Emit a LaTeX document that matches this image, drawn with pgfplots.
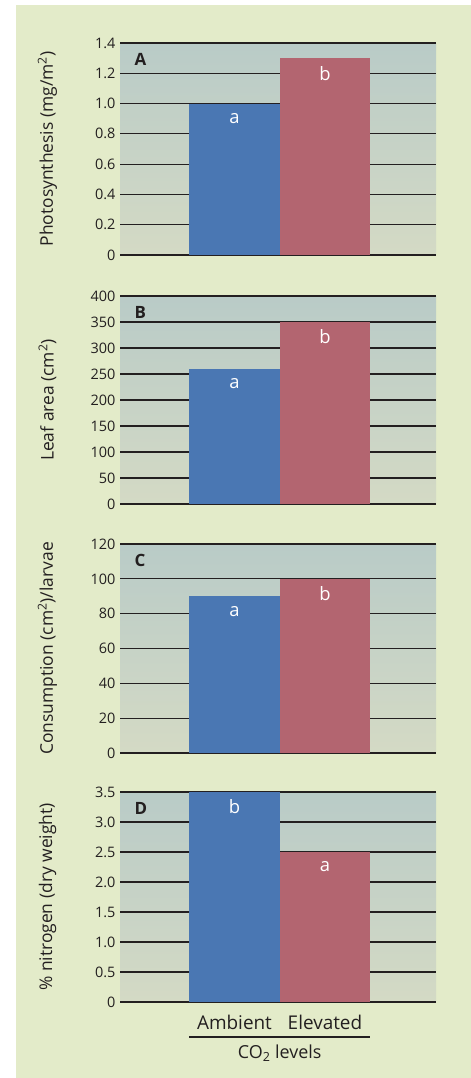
\documentclass[border=0pt]{standalone}
\usepackage{fontspec}
\setmainfont{Open Sans}
\usepackage{pgfplots}
\pgfplotsset{compat=1.18}

\definecolor{panelbg}{HTML}{E3EBC9}
\definecolor{plottop}{HTML}{B9CBC7}
\definecolor{plotbot}{HTML}{D4DAC5}
\definecolor{barblue}{HTML}{4A77B3}
\definecolor{barred}{HTML}{B36570}
\definecolor{txt}{HTML}{231F20}

\pgfplotsset{
  layers/withpage/.define layer set={pagebg,axis background,axis grid,axis ticks,
    axis lines,axis tick labels,pre main,main,axis descriptions,axis foreground}{},
  panel/.style={
    set layers=withpage,
    scale only axis,
    width=316bp,
    anchor=south west,
    xmin=-1.265, xmax=2.227,
    ymin=0,
    axis line style={draw=none},
    tick style={draw=none},
    xtick=\empty,
    ymajorgrids,
    grid style={line width=1.1bp, color=txt},
    axis background/.style={shade, top color=plottop, bottom color=plotbot},
    /pgf/number format/assume math mode=true,
    yticklabel style={font=\fontsize{14.5}{16}\selectfont, text=txt, xshift=-1bp},
    every axis y label/.style={at={(axis description cs:-0.2294,0.5)}, rotate=90,
      anchor=center, font=\fontsize{17.5}{19}\selectfont, text=txt},
    clip=false,
  },
  bars/.style={
    ybar, bar shift=0pt, bar width=1, draw=none,
    point meta=explicit symbolic,
    nodes near coords,
    every node near coord/.append style={anchor=center, yshift=-15bp,
      text=white, font=\fontsize{18.5}{20}\selectfont},
  },
}

\begin{document}
\begin{tikzpicture}

% A
\begin{axis}[panel, at={(120bp,-255bp)}, height=212bp, ymax=1.4,
  ytick={0,0.2,0.4,0.6,0.8,1.0,1.2,1.4},
  yticklabels={0,0.2,0.4,0.6,0.8,1.0,1.2,1.4},
  ylabel={Photosynthesis (mg/m\textsuperscript{2})}]
\addplot[bars, fill=barblue] coordinates {(0,1.0) [a]};
\addplot[bars, fill=barred] coordinates {(1,1.3) [b]};
\node[anchor=west, text=txt, font=\fontsize{17}{19}\selectfont\bfseries]
  at ([xshift=11bp,yshift=-16bp]rel axis cs:0,1) {A};
\end{axis}

% B
\begin{axis}[panel, at={(120bp,-504bp)}, height=208bp, ymax=400,
  ytick={0,50,100,150,200,250,300,350,400},
  yticklabels={0,50,100,150,200,250,300,350,400},
  ylabel={Leaf area (cm\textsuperscript{2})}]
\addplot[bars, fill=barblue] coordinates {(0,260) [a]};
\addplot[bars, fill=barred] coordinates {(1,350) [b]};
\node[anchor=west, text=txt, font=\fontsize{17}{19}\selectfont\bfseries]
  at ([xshift=11bp,yshift=-16bp]rel axis cs:0,1) {B};
\end{axis}

% C
\begin{axis}[panel, at={(120bp,-753bp)}, height=209bp, ymax=120,
  ytick={0,20,40,60,80,100,120},
  yticklabels={0,20,40,60,80,100,120},
  ylabel={Consumption (cm\textsuperscript{2})/larvae}]
\addplot[bars, fill=barblue] coordinates {(0,90) [a]};
\addplot[bars, fill=barred] coordinates {(1,100) [b]};
\node[anchor=west, text=txt, font=\fontsize{17}{19}\selectfont\bfseries]
  at ([xshift=11bp,yshift=-16bp]rel axis cs:0,1) {C};
\end{axis}

% D
\begin{axis}[panel, at={(120bp,-1002bp)}, height=210bp, ymax=3.5,
  ytick={0,0.5,1.0,1.5,2.0,2.5,3.0,3.5},
  yticklabels={0,0.5,1.0,1.5,2.0,2.5,3.0,3.5},
  ylabel={\% nitrogen (dry weight)},
  xtick={0,1}, xticklabels={Ambient,Elevated},
  xticklabel style={font=\fontsize{19}{21}\selectfont, text=txt, anchor=center, yshift=-20bp}]
\addplot[bars, fill=barblue] coordinates {(0,3.5) [b]};
\addplot[bars, fill=barred] coordinates {(1,2.5) [a]};
\node[anchor=west, text=txt, font=\fontsize{17}{19}\selectfont\bfseries]
  at ([xshift=11bp,yshift=-16bp]rel axis cs:0,1) {D};
\draw[line width=1.5bp, txt] ([yshift=-35bp]axis cs:-0.5,0) -- ([yshift=-35bp]axis cs:1.5,0);
\node[text=txt, font=\fontsize{18}{20}\selectfont]
  at ([yshift=-51bp]axis cs:0.5,0) {CO\textsubscript{2} levels};
\end{axis}

\begin{pgfonlayer}{pagebg}
\fill[white] (0bp,0bp) rectangle (471bp,-1078bp);
\fill[panelbg] (16bp,-5bp) rectangle (471bp,-1078bp);
\end{pgfonlayer}
\end{tikzpicture}
\end{document}
